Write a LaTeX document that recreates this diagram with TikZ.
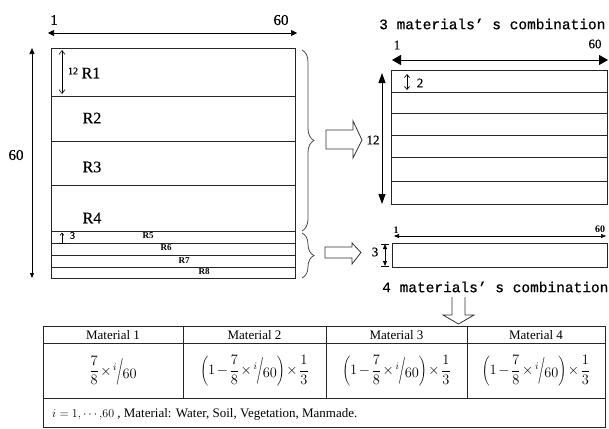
\documentclass[tikz,border=0pt]{standalone}
\usepackage{fontspec}
\setmainfont{Liberation Serif}
\newfontfamily\titlefont[FakeBold=0.6]{Liberation Mono}
\newfontfamily\heavyserif[FakeBold=0.5]{Liberation Serif}
\usetikzlibrary{arrows.meta,decorations.pathreplacing}

% slashed fraction i/60
\newcommand\islash{{\raisebox{5pt}{$\scriptstyle i$}\kern-0.5pt\raisebox{-3pt}{\scalebox{1.05}[1.85]{$/$}}\kern-1pt\raisebox{-3.5pt}{$60$}}}

\tikzset{
  frame/.style={draw=black!85, line width=0.9pt},
  grid/.style={draw=black!85, line width=0.8pt},
  dim/.style={draw=black, line width=0.7pt},
  smalldim/.style={dim, {Triangle[length=5pt,width=4pt]}-{Triangle[length=5pt,width=4pt]}},
  opendim/.style={dim, line width=0.6pt, {Straight Barb[length=4pt,width=6pt]}-{Straight Barb[length=4pt,width=6pt]}},
  blockarrow/.style={draw=black!80, line width=0.8pt, fill=white},
  bracestyle/.style={draw=black!70, line width=0.8pt, decorate,
     decoration={brace, amplitude=12pt, aspect=0.5}},
  lbl/.style={inner sep=0pt, font=\fontsize{15}{15}\heavyserif},
  rlbl/.style={inner sep=0pt, font=\fontsize{16}{16}\heavyserif},
  mid/.style={inner sep=0pt, font=\fontsize{13}{13}\heavyserif},
  tiny/.style={inner sep=0pt, font=\fontsize{9}{9}\selectfont\bfseries},
  small/.style={inner sep=0pt, font=\fontsize{10}{10}\heavyserif},
  title/.style={inner sep=0pt, anchor=west, font=\fontsize{14.5}{14.5}\titlefont},
  cell/.style={inner sep=0pt, font=\fontsize{13}{13}\selectfont},
  mathcell/.style={inner sep=0pt, font=\fontsize{14}{14}\selectfont},
}

\begin{document}
\begin{tikzpicture}[x=1pt, y=-1pt]
\useasboundingbox[fill=white] (0,0) rectangle (609,428);

% ---------- left block: eight horizontal layers ----------
\draw[frame] (51,48) rectangle (295,278);
\foreach \yy in {96,141,185,231,243,255,267}
  \draw[grid] (51,\yy) -- (295,\yy);

\coordinate (lt1) at (48,33);  \coordinate (lt2) at (297,33);
\draw[dim, {Triangle[length=6pt,width=6pt]}-{Triangle[length=6pt,width=6pt]}] (lt1) -- (lt2);
\node[lbl] (l1) at (54,20) {1};
\node[lbl] (l60) at (281,20) {60};

\coordinate (lv1) at (32,48);  \coordinate (lv2) at (32,278);
\draw[dim, {Triangle[length=6pt,width=5pt]}-{Triangle[length=5pt,width=4pt]}] (lv1) -- (lv2);
\node[lbl] (lh60) at (16,155) {60};

\coordinate (r1a) at (62,50);  \coordinate (r1b) at (62,94);
\draw[opendim] (r1a) -- (r1b);
\node[small] (n12) at (73,71) {12};

\node[rlbl] (R1) at (91,73) {R1};
\node[rlbl] (R2) at (92,118) {R2};
\node[rlbl] (R3) at (92,167) {R3};
\node[rlbl] (R4) at (92,218) {R4};

\coordinate (r5a) at (62,232.5);  \coordinate (r5b) at (62,243);
\draw[dim, line width=0.6pt, {Straight Barb[length=2.5pt,width=4pt]}-] (r5a) -- (r5b);
\draw[dim, line width=0.6pt] (59,243) -- (65,243);
\node[small] (n3) at (72.5,235.5) {3};

\node[tiny] (R5) at (148,236) {R5};
\node[tiny] (R6) at (166,248) {R6};
\node[tiny] (R7) at (184,261) {R7};
\node[tiny] (R8) at (204,272) {R8};

% ---------- braces grouping the layers ----------
\coordinate (b1a) at (302,50);  \coordinate (b1b) at (302,231);
\draw[bracestyle] (b1a) -- (b1b);
\coordinate (b2a) at (302,233); \coordinate (b2b) at (302,278);
\draw[bracestyle] (b2a) -- (b2b);

% ---------- hollow block arrows ----------
\draw[blockarrow] (326,130) -- (353,130) -- (353,121) -- (362,140) -- (353,158)
                  -- (353,149) -- (326,149) -- cycle;
\draw[blockarrow] (325,247) -- (352,247) -- (352,243) -- (361,252.5) -- (352,264)
                  -- (352,258) -- (325,258) -- cycle;
\draw[blockarrow] (452,297) -- (452,315) -- (443,315) -- (458.5,324) -- (474,315)
                  -- (465,315) -- (465,297);

% ---------- three materials' combination ----------
\node[title] (t3) at (379,24) {3 materials’ s combination};
\draw[frame] (391,70) rectangle (607.5,204);
\foreach \yy in {92,113,135,157,181}
  \draw[grid] (391,\yy) -- (607.5,\yy);

\coordinate (rt1) at (392,60);  \coordinate (rt2) at (608,60);
\draw[dim, line width=0.9pt, {Triangle[length=9pt,width=10pt]}-{Triangle[length=9pt,width=10pt]}] (rt1) -- (rt2);
\node[mid] (r1) at (397,45) {1};
\node[mid] (r60) at (595,44) {60};

\coordinate (rv1) at (382,73);  \coordinate (rv2) at (382,204);
\draw[dim, line width=0.9pt, {Triangle[length=10pt,width=7pt]}-{Triangle[length=10pt,width=7pt]}] (rv1) -- (rv2);
\node[mid] (r12) at (373,140) {12};

\coordinate (r2a) at (407,74);  \coordinate (r2b) at (407,90);
\draw[dim, line width=0.7pt, {Straight Barb[length=3pt,width=5pt]}-{Straight Barb[length=3pt,width=5pt]}] (r2a) -- (r2b);
\node[mid] (r2) at (420,83) {2};

% ---------- four materials' combination ----------
\draw[frame] (392,243) rectangle (607.5,267);
\coordinate (bt1) at (394,236);  \coordinate (bt2) at (606,236);
\draw[smalldim, line width=0.6pt] (bt1) -- (bt2);
\node[tiny, font=\fontsize{10}{10}\selectfont\bfseries] (b1) at (396,230) {1};
\node[tiny, font=\fontsize{10}{10}\selectfont\bfseries] (b60) at (600,229) {60};

\coordinate (bv1) at (385,244);  \coordinate (bv2) at (385,266);
\draw[smalldim, line width=0.8pt] (bv1) -- (bv2);
\draw[dim, line width=0.8pt] (381,244) -- (389,244) (381,266) -- (389,266);
\node[mid] (b3) at (375,252) {3};

\node[title] (t4) at (382,287) {4 materials’ s combination};

% ---------- proportion table ----------
\draw[frame, line width=1pt] (43,326) rectangle (605,427.5);
\draw[frame, line width=1pt] (43,343) -- (605,343) (43,398) -- (605,398);
\foreach \xx in {183,326,467}
  \draw[frame, line width=1pt] (\xx,326) -- (\xx,398);

\node[cell] (h1) at (113,335) {Material 1};
\node[cell] (h2) at (254.5,335) {Material 2};
\node[cell] (h3) at (396.5,335) {Material 3};
\node[cell] (h4) at (536,335) {Material 4};

\node[mathcell] (f1) at (113,370.5) {$\medmuskip=2mu\displaystyle \frac{7}{8}\times\islash$};
\node[mathcell] (f2) at (254.5,370.5) {$\medmuskip=2mu\displaystyle \left(1-\frac{7}{8}\times\islash\right)\times\frac{1}{3}$};
\node[mathcell] (f3) at (396.5,370.5) {$\medmuskip=2mu\displaystyle \left(1-\frac{7}{8}\times\islash\right)\times\frac{1}{3}$};
\node[mathcell] (f4) at (536,370.5) {$\medmuskip=2mu\displaystyle \left(1-\frac{7}{8}\times\islash\right)\times\frac{1}{3}$};

\node[cell, anchor=west] (foot) at (52,414.5)
  {$i=1{,}\cdots{,}60$ , Material: Water, Soil, Vegetation, Manmade.};
\end{tikzpicture}
\end{document}
